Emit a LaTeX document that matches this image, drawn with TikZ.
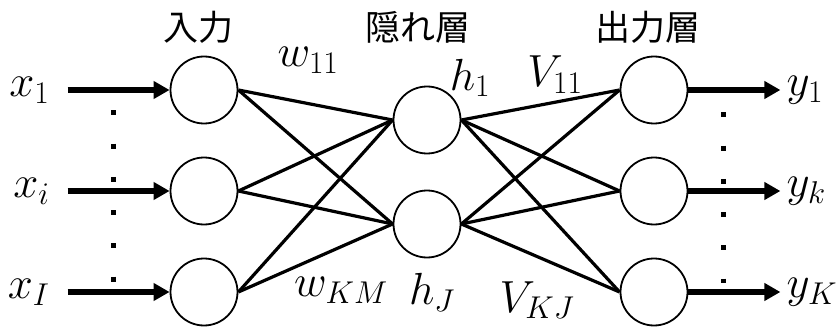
\RequirePackage{fix-cm}
\documentclass[tikz,border=0pt]{standalone}
\usepackage{fontspec}
\newfontfamily\jpfont{Noto Sans CJK JP}
\usetikzlibrary{positioning, arrows.meta}
\tikzset{
  node distance=101pt,
  neuron/.style={circle, draw, line width=1.8pt, minimum size=67pt, inner sep=0pt},
  link/.style={line width=3.2pt},
  signal/.style={line width=6pt, -{Triangle[length=16pt, width=17pt]}},
  var/.style={font=\fontsize{45}{54}\selectfont, inner sep=2pt},
  layer/.style={font=\jpfont\fontsize{35}{42}\selectfont},
  ellipsis/.style={line width=5pt, dash pattern=on 5pt off 28.2pt},
}

\begin{document}
\begin{tikzpicture}[x=1pt, y=-1pt]
        \useasboundingbox (0,0) rectangle (839,329);

        % neurons
        \node[neuron] (i1) at (204,90) {};
        \node[neuron, below of=i1] (i2) {};
        \node[neuron, below of=i2] (i3) {};
        \node[neuron] (h1) at (427,120) {};
        \node[neuron, below of=h1, node distance=104pt] (h2) {};
        \node[neuron] (o1) at (654,90) {};
        \node[neuron, below of=o1] (o2) {};
        \node[neuron, below of=o2] (o3) {};

        % layer titles
        \node[layer] (tin) at (198,27) {入力};
        \node[layer] (thid) at (418,27) {隠れ層};
        \node[layer] (tout) at (648,27) {出力層};

        % inputs and outputs
        \node[var, left=118pt of i1] (x1) {$x_1$};
        \node[var, left=118pt of i2] (xi) {$x_i$};
        \node[var, left=118pt of i3] (xI) {$x_I$};
        \node[var, right=96pt of o1] (y1) {$y_1$};
        \node[var, right=96pt of o2] (yk) {$y_k$};
        \node[var, right=96pt of o3] (yK) {$y_K$};

        % weights
        \node[var] (w11) at (308,60) {$w_{11}$};
        \node[var] (hl1) at (470,78) {$h_1$};
        \node[var] (v11) at (555,75) {$V_{11}$};
        \node[var] (wkm) at (341,290) {$w_{KM}$};
        \node[var] (hlJ) at (432,292) {$h_J$};
        \node[var] (vkj) at (537,300) {$V_{KJ}$};

        % signals
        \draw[signal, shorten <=16pt]
              (x1) edge (i1)
              (xi) edge (i2)
              (xI) edge (i3);
        \draw[signal, shorten >=4pt]
              (o1) edge (y1)
              (o2) edge (yk)
              (o3) edge (yK);

        % links
        \draw[link]
              (i1.east) edge (h1.west)
              (i1.east) edge (h2.west)
              (i2.east) edge (h1.west)
              (i2.east) edge (h2.west)
              (i3.east) edge (h1.west)
              (i3.east) edge (h2.west)
              (h1.east) edge (o1.west)
              (h1.east) edge (o2.west)
              (h1.east) edge (o3.west)
              (h2.east) edge (o1.west)
              (h2.east) edge (o2.west)
              (h2.east) edge (o3.west);

        % dots
        \draw[ellipsis] (113,110.5) -- (113,281.5);
        \draw[ellipsis] (723,112.5) -- (723,282.5);
      \end{tikzpicture}
\end{document}
